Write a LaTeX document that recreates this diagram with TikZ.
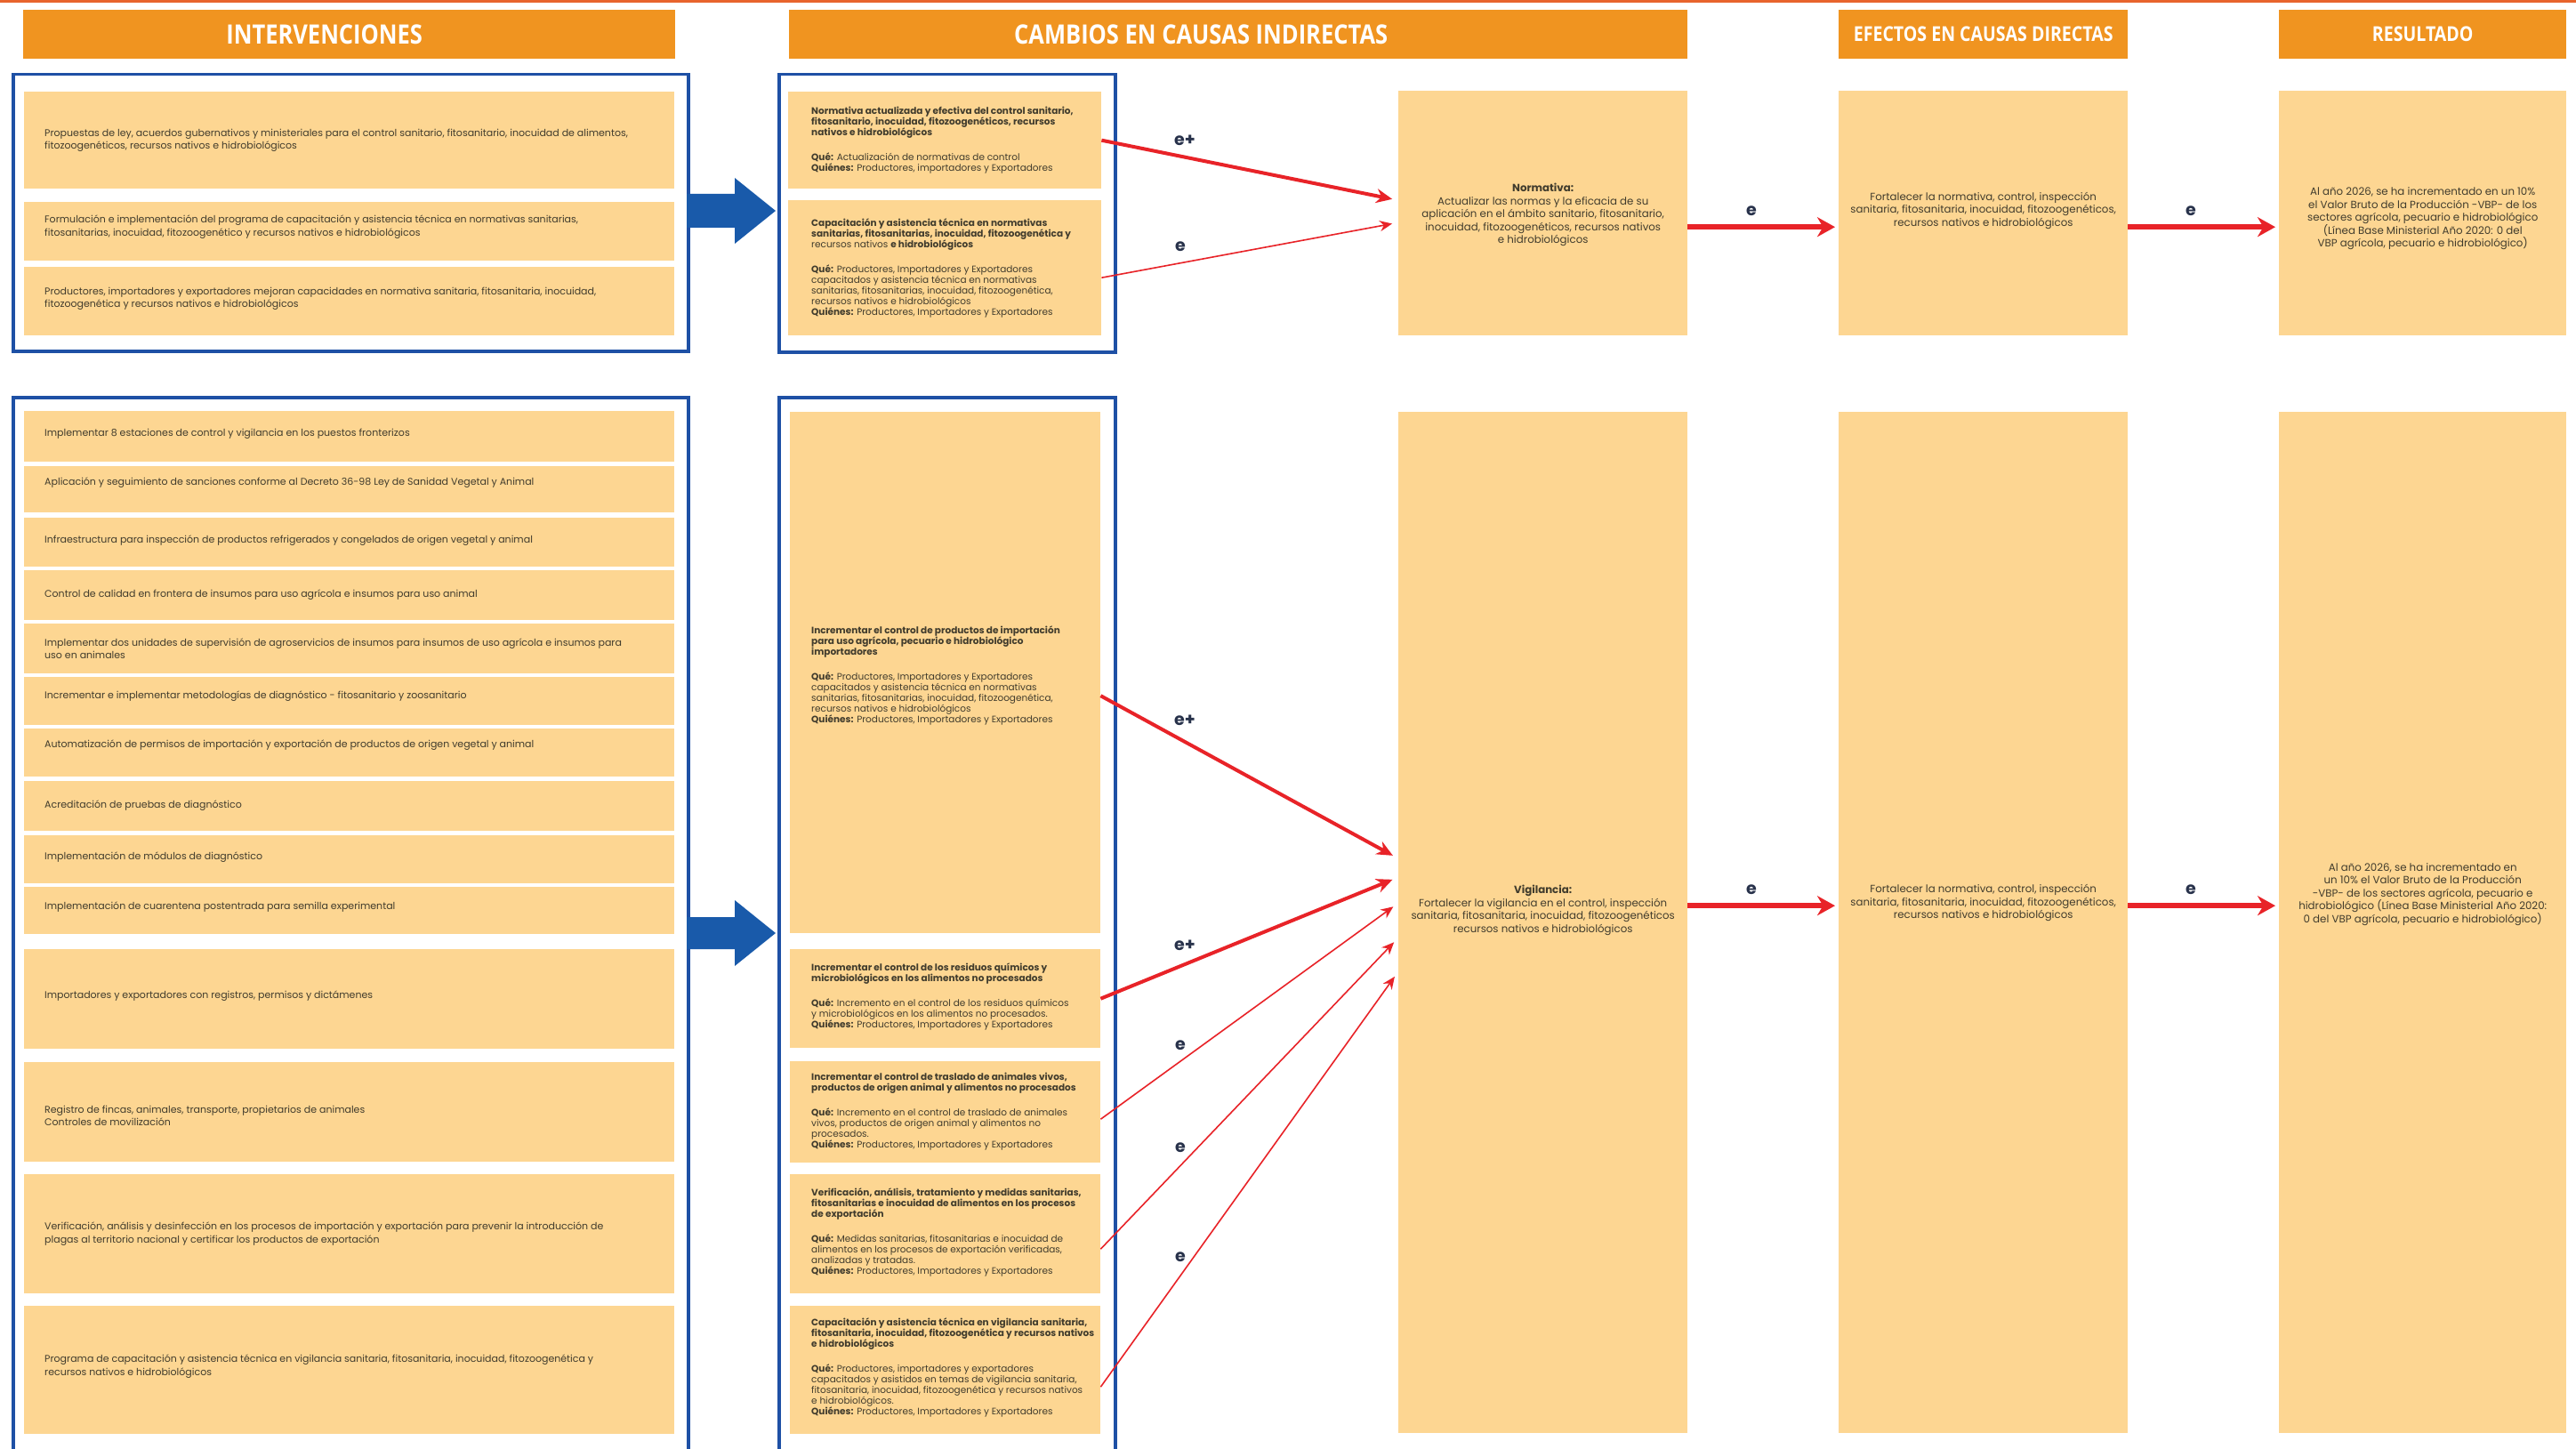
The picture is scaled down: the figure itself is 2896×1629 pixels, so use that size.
\documentclass[tikz,border=0pt]{standalone}
\usepackage{fontspec}
\setmainfont{Poppins}
\newfontfamily\hdfont{Open Sans}[FakeStretch=0.85]
\usetikzlibrary{arrows.meta,calc}
\definecolor{hdor}{RGB}{240,148,32}
\definecolor{boxor}{RGB}{253,214,146}
\definecolor{frblue}{RGB}{30,80,165}
\definecolor{arblue}{RGB}{25,90,170}
\definecolor{arred}{RGB}{232,35,40}
\definecolor{txt}{RGB}{65,60,45}
\definecolor{lbl}{RGB}{40,50,75}
\definecolor{topline}{RGB}{232,100,45}
\newcommand\cellbox[6][cell]{\node[#1, minimum width={(#5-#3)*1pt}, minimum height={(#6-#4)*1pt}] (#2) at (#3,#4) {};}
\newcommand\gapline{\\[16pt]}
\begin{document}
\begin{tikzpicture}[x=1pt,y=-1pt,
  hdr/.style={fill=hdor, draw=none, text=white, inner sep=0pt, anchor=north west},
  cell/.style={fill=boxor, draw=none, inner sep=0pt, anchor=north west},
  framebox/.style={draw=frblue, line width=3.5pt, fill=none, inner sep=0pt, anchor=north west},
  ltxt/.style={anchor=west, align=left, text=txt, font=\fontsize{11}{14.5}\selectfont, inner sep=0pt},
  mtxt/.style={anchor=west, align=left, text=txt, font=\fontsize{10.5}{12}\selectfont, inner sep=0pt},
  rtxt/.style={align=center, text=txt, font=\fontsize{11.8}{14.5}\selectfont, inner sep=0pt},
  bigar/.style={draw=arred, line width=4pt, -{Stealth[length=18pt,width=16pt]}, shorten >=7pt},
  smar/.style={draw=arred, line width=1.6pt, -{Stealth[length=14pt,width=12pt]}, shorten >=7pt},
  horar/.style={draw=arred, line width=6pt, -{Stealth[length=20pt,width=22pt]}, shorten >=4pt},
  lab/.style={text=lbl, font=\fontsize{19}{19}\selectfont\bfseries, inner sep=0pt}
]
\useasboundingbox (0,0) rectangle (2896,1629);
\clip (0,0) rectangle (2896,1629);
\fill[white] (0,0) rectangle (2896,1629);
\draw[topline, line width=3pt] (0,1.5) -- (2896,1.5);

% headers
\cellbox[hdr]{h1}{26}{11}{759}{66}
\cellbox[hdr]{h2}{887}{11}{1897}{66}
\cellbox[hdr]{h3}{2067}{11}{2392}{66}
\cellbox[hdr]{h4}{2562}{11}{2885}{66}
\node[text=white, font=\hdfont\bfseries\fontsize{30}{30}\selectfont] (h1t) at ($(h1.center)+(-28,0)$) {INTERVENCIONES};
\node[text=white, font=\hdfont\bfseries\fontsize{30}{30}\selectfont] (h2t) at ($(h2.center)+(-42,0)$) {CAMBIOS EN CAUSAS INDIRECTAS};
\node[text=white, font=\hdfont\bfseries\fontsize{23}{23}\selectfont] (h3t) at (h3.center) {EFECTOS EN CAUSAS DIRECTAS};
\node[text=white, font=\hdfont\bfseries\fontsize{23}{23}\selectfont] (h4t) at (h4.center) {RESULTADO};

% frames
\cellbox[framebox]{ftl}{13}{82}{772}{393}
\cellbox[framebox]{ftm}{874}{82}{1252}{394}
\cellbox[framebox]{fbl}{13}{445}{772}{1650}
\cellbox[framebox]{fbm}{874}{445}{1252}{1650}

% top left cells
\cellbox{lt1}{27}{103}{758}{212}
\cellbox{lt2}{27}{227}{758}{293}
\cellbox{lt3}{27}{300}{758}{377}
\node[ltxt] (lt1t) at ($(lt1.west)+(23,0)$) {Propuestas de ley, acuerdos gubernativos y ministeriales para el control sanitario, fitosanitario, inocuidad de alimentos,\\ fitozoogenéticos, recursos nativos e hidrobiológicos};
\node[ltxt] (lt2t) at ($(lt2.west)+(23,-5)$) {Formulación e implementación del programa de capacitación y asistencia técnica en normativas sanitarias,\\ fitosanitarias, inocuidad, fitozoogenético y recursos nativos e hidrobiológicos};
\node[ltxt] (lt3t) at ($(lt3.west)+(23,-3)$) {Productores, importadores y exportadores mejoran capacidades en normativa sanitaria, fitosanitaria, inocuidad,\\ fitozoogenética y recursos nativos e hidrobiológicos};

% top middle cells
\cellbox{mt1}{886}{103}{1238}{212}
\cellbox{mt2}{886}{225}{1238}{377}
\node[mtxt] (mt1t) at ($(mt1.west)+(26,0)$) {\textbf{Normativa actualizada y efectiva del control sanitario,}\\ \textbf{fitosanitario, inocuidad, fitozoogenéticos, recursos}\\ \textbf{nativos e hidrobiológicos}\gapline \textbf{Qué:} Actualización de normativas de control\\ \textbf{Quiénes:} Productores, importadores y Exportadores};
\node[mtxt] (mt2t) at ($(mt2.west)+(26,0)$) {\textbf{Capacitación y asistencia técnica en normativas}\\ \textbf{sanitarias, fitosanitarias, inocuidad, fitozoogenética y}\\ recursos nativos \textbf{e hidrobiológicos}\gapline \textbf{Qué:} Productores, Importadores y Exportadores\\ capacitados y asistencia técnica en normativas\\ sanitarias, fitosanitarias, inocuidad, fitozoogenética,\\ recursos nativos e hidrobiológicos\\ \textbf{Quiénes:} Productores, Importadores y Exportadores};

% top right cells
\cellbox{rn}{1572}{102}{1897}{377}
\cellbox{re}{2067}{102}{2392}{377}
\cellbox{rr}{2562}{102}{2885}{377}
\node[rtxt] (rnt) at ($(rn.center)+(0,2)$) {\textbf{Normativa:}\\ Actualizar las normas y la eficacia de su\\ aplicación en el ámbito sanitario, fitosanitario,\\ inocuidad, fitozoogenéticos, recursos nativos\\ e hidrobiológicos};
\node[rtxt] (ret) at ($(re.center)+(0,-3)$) {Fortalecer la normativa, control, inspección\\ sanitaria, fitosanitaria, inocuidad, fitozoogenéticos,\\ recursos nativos e hidrobiológicos};
\node[rtxt] (rrt) at ($(rr.center)+(0,6)$) {Al año 2026, se ha incrementado en un 10\%\\ el Valor Bruto de la Producción -VBP- de los\\ sectores agrícola, pecuario e hidrobiológico\\ (Línea Base Ministerial Año 2020: 0 del\\ VBP agrícola, pecuario e hidrobiológico)};

% bottom left cells
\cellbox{ba}{27}{462}{758}{519}
\cellbox{bb}{27}{524}{758}{576}
\cellbox{bc}{27}{582}{758}{637}
\cellbox{bd}{27}{641}{758}{697}
\cellbox{be}{27}{701}{758}{757}
\cellbox{bf}{27}{761}{758}{815}
\cellbox{bg}{27}{819}{758}{873}
\cellbox{bh}{27}{878}{758}{934}
\cellbox{bi}{27}{939}{758}{993}
\cellbox{bj}{27}{997}{758}{1050}
\cellbox{bk}{27}{1067}{758}{1179}
\cellbox{bl}{27}{1194}{758}{1306}
\cellbox{bm}{27}{1320}{758}{1454}
\cellbox{bn}{27}{1468}{758}{1612}
\node[ltxt] (bat) at ($(ba.west)+(23,-3)$) {Implementar 8 estaciones de control y vigilancia en los puestos fronterizos};
\node[ltxt] (bbt) at ($(bb.west)+(23,-8)$) {Aplicación y seguimiento de sanciones conforme al Decreto 36-98 Ley de Sanidad Vegetal y Animal};
\node[ltxt] (bct) at ($(bc.west)+(23,-2)$) {Infraestructura para inspección de productos refrigerados y congelados de origen vegetal y animal};
\node[ltxt] (bdt) at ($(bd.west)+(23,-1)$) {Control de calidad en frontera de insumos para uso agrícola e insumos para uso animal};
\node[ltxt] (bet) at ($(be.west)+(23,0)$) {Implementar dos unidades de supervisión de agroservicios de insumos para insumos de uso agrícola e insumos para\\ uso en animales};
\node[ltxt] (bft) at ($(bf.west)+(23,-6)$) {Incrementar e implementar metodologías de diagnóstico - fitosanitario y zoosanitario};
\node[ltxt] (bgt) at ($(bg.west)+(23,-9)$) {Automatización de permisos de importación y exportación de productos de origen vegetal y animal};
\node[ltxt] (bht) at ($(bh.west)+(23,-1)$) {Acreditación de pruebas de diagnóstico};
\node[ltxt] (bit) at ($(bi.west)+(23,-3)$) {Implementación de módulos de diagnóstico};
\node[ltxt] (bjt) at ($(bj.west)+(23,-4)$) {Implementación de cuarentena postentrada para semilla experimental};
\node[ltxt] (bkt) at ($(bk.west)+(23,-4)$) {Importadores y exportadores con registros, permisos y dictámenes};
\node[ltxt] (blt) at ($(bl.west)+(23,4)$) {Registro de fincas, animales, transporte, propietarios de animales\\ Controles de movilización};
\node[ltxt] (bmt) at ($(bm.west)+(23,0)$) {Verificación, análisis y desinfección en los procesos de importación y exportación para prevenir la introducción de\\ plagas al territorio nacional y certificar los productos de exportación};
\node[ltxt] (bnt) at ($(bn.west)+(23,-4)$) {Programa de capacitación y asistencia técnica en vigilancia sanitaria, fitosanitaria, inocuidad, fitozoogenética y\\ recursos nativos e hidrobiológicos};

% bottom middle cells
\cellbox{mb1}{888}{463}{1237}{1049}
\cellbox{mb2}{888}{1067}{1237}{1178}
\cellbox{mb3}{888}{1193}{1237}{1307}
\cellbox{mb4}{888}{1320}{1237}{1454}
\cellbox{mb5}{888}{1468}{1237}{1612}
\node[mtxt] (mb1t) at ($(mb1.west)+(24,3)$) {\textbf{Incrementar el control de productos de importación}\\ \textbf{para uso agrícola, pecuario e hidrobiológico}\\ \textbf{importadores}\gapline \textbf{Qué:} Productores, Importadores y Exportadores\\ capacitados y asistencia técnica en normativas\\ sanitarias, fitosanitarias, inocuidad, fitozoogenética,\\ recursos nativos e hidrobiológicos\\ \textbf{Quiénes:} Productores, Importadores y Exportadores};
\node[mtxt] (mb2t) at ($(mb2.west)+(24,-2)$) {\textbf{Incrementar el control de los residuos químicos y}\\ \textbf{microbiológicos en los alimentos no procesados}\gapline \textbf{Qué:} Incremento en el control de los residuos químicos\\ y microbiológicos en los alimentos no procesados.\\ \textbf{Quiénes:} Productores, Importadores y Exportadores};
\node[mtxt] (mb3t) at ($(mb3.west)+(24,-1)$) {\textbf{Incrementar el control de traslado de animales vivos,}\\ \textbf{productos de origen animal y alimentos no procesados}\gapline \textbf{Qué:} Incremento en el control de traslado de animales\\ vivos, productos de origen animal y alimentos no\\ procesados.\\ \textbf{Quiénes:} Productores, Importadores y Exportadores};
\node[mtxt] (mb4t) at ($(mb4.west)+(24,-2)$) {\textbf{Verificación, análisis, tratamiento y medidas sanitarias,}\\ \textbf{fitosanitarias e inocuidad de alimentos en los procesos}\\ \textbf{de exportación}\gapline \textbf{Qué:} Medidas sanitarias, fitosanitarias e inocuidad de\\ alimentos en los procesos de exportación verificadas,\\ analizadas y tratadas.\\ \textbf{Quiénes:} Productores, Importadores y Exportadores};
\node[mtxt] (mb5t) at ($(mb5.west)+(24,-3)$) {\textbf{Capacitación y asistencia técnica en vigilancia sanitaria,}\\ \textbf{fitosanitaria, inocuidad, fitozoogenética y recursos nativos}\\ \textbf{e hidrobiológicos}\gapline \textbf{Qué:} Productores, importadores y exportadores\\ capacitados y asistidos en temas de vigilancia sanitaria,\\ fitosanitaria, inocuidad, fitozoogenética y recursos nativos\\ e hidrobiológicos.\\ \textbf{Quiénes:} Productores, Importadores y Exportadores};

% bottom right cells
\cellbox{rv}{1572}{463}{1897}{1611}
\cellbox{rf}{2067}{463}{2392}{1611}
\cellbox{rs}{2562}{463}{2885}{1611}
\node[rtxt] (rvt) at ($(rv.center)+(0,-14)$) {\textbf{Vigilancia:}\\ Fortalecer la vigilancia en el control, inspección\\ sanitaria, fitosanitaria, inocuidad, fitozoogenéticos\\ recursos nativos e hidrobiológicos};
\node[rtxt] (rft) at ($(rf.center)+(0,-22)$) {Fortalecer la normativa, control, inspección\\ sanitaria, fitosanitaria, inocuidad, fitozoogenéticos,\\ recursos nativos e hidrobiológicos};
\node[rtxt] (rst) at ($(rs.center)+(0,-32)$) {Al año 2026, se ha incrementado en\\ un 10\% el Valor Bruto de la Producción\\ -VBP- de los sectores agrícola, pecuario e\\ hidrobiológico (Línea Base Ministerial Año 2020:\\ 0 del VBP agrícola, pecuario e hidrobiológico)};

% blue block arrows
\fill[arblue] (772,218) -- (826,218) -- (826,200) -- (872,237) -- (826,274) -- (826,256) -- (772,256) -- cycle;
\fill[arblue] (772,1031) -- (826,1031) -- (826,1012) -- (872,1049) -- (826,1086) -- (826,1067) -- (772,1067) -- cycle;

% red arrows top
\draw[bigar] (mt1.east) -- ($(rn.west)+(0,-14.5)$);
\draw[smar] ($(mt2.east)+(0,11)$) -- ($(rn.west)+(0,10.5)$);
\node[lab] (l1) at (1332,158) {e+};
\node[lab] (l2) at (1327,277) {e};
\draw[horar] ($(rn.east)+(0,15.5)$) -- ($(re.west)+(0,15.5)$);
\draw[horar] ($(re.east)+(0,15.5)$) -- ($(rr.west)+(0,15.5)$);
\node[lab] (l3) at (1969,237) {e};
\node[lab] (l4) at (2463,237) {e};

% red arrows bottom
\draw[bigar] ($(mb1.east)+(0,26)$) -- ($(rv.west)+(0,-72)$);
\draw[bigar] (mb2.east) -- ($(rv.west)+(0,-51)$);
\draw[smar] ($(mb3.east)+(0,8)$) -- ($(rv.west)+(0,-22)$);
\draw[smar] ($(mb4.east)+(0,17)$) -- ($(rv.west)+(0,17)$);
\draw[smar] ($(mb5.east)+(0,19)$) -- ($(rv.west)+(0,55)$);
\node[lab] (l5) at (1332,810) {e+};
\node[lab] (l6) at (1332,1063) {e+};
\node[lab] (l7) at (1327,1175) {e};
\node[lab] (l8) at (1327,1290) {e};
\node[lab] (l9) at (1327,1413) {e};
\draw[horar] ($(rv.east)+(0,-19)$) -- ($(rf.west)+(0,-19)$);
\draw[horar] ($(rf.east)+(0,-19)$) -- ($(rs.west)+(0,-19)$);
\node[lab] (l10) at (1969,1000) {e};
\node[lab] (l11) at (2463,1000) {e};
\end{tikzpicture}
\end{document}
